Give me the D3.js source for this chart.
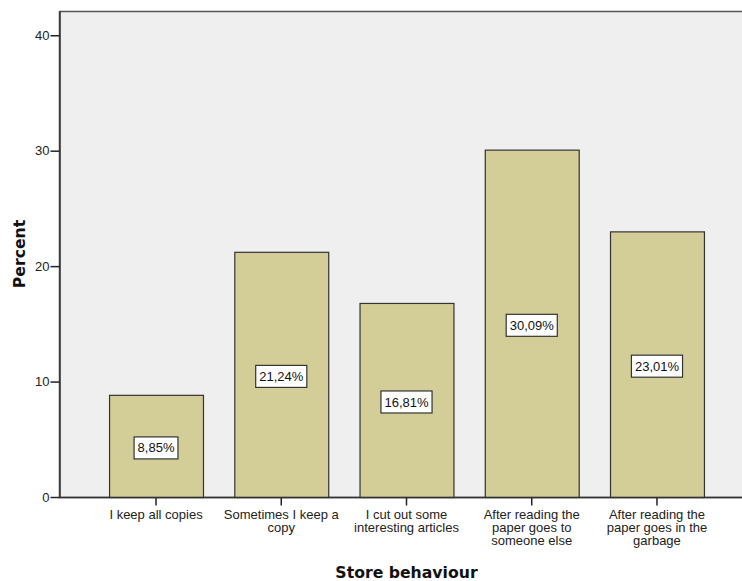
<!DOCTYPE html>
<html>
<head>
<meta charset="utf-8">
<script src="https://cdn.jsdelivr.net/npm/d3@7"></script>
<style>
  html, body { margin: 0; padding: 0; background: #ffffff; }
  svg { display: block; }
</style>
</head>
<body>
<svg id="chart" width="742" height="581"></svg>
<script>
const categories = [
  "I keep all copies",
  "Sometimes I keep a\ncopy",
  "I cut out some\ninteresting articles",
  "After reading the\npaper goes to\nsomeone else",
  "After reading the\npaper goes in the\ngarbage"
];
const percents = [8.85, 21.24, 16.81, 30.09, 23.01];
const valueLabels = ["8,85%", "21,24%", "16,81%", "30,09%", "23,01%"];
const yTicks = [0, 10, 20, 30, 40];

const svg = d3.select("#chart");
const plotLeft = 59, plotTop = 11, plotBottom = 497, plotRight = 760;

const x = d3.scaleBand()
  .domain(categories)
  .range([93.4, 719.6])
  .paddingInner(0.25)
  .paddingOuter(0.125);

const y = d3.scaleLinear()
  .domain([0, 42.1])
  .range([plotBottom, plotTop]);

// plot background / frame
svg.append("rect")
  .attr("x", plotLeft + 0.5).attr("y", plotTop + 0.5)
  .attr("width", plotRight - plotLeft).attr("height", plotBottom - plotTop)
  .attr("fill", "#efefef")
  .attr("stroke", "#555")
  .attr("stroke-width", 1.5);

// bars
svg.append("g").selectAll("rect")
  .data(percents)
  .join("rect")
  .attr("x", (d, i) => x(categories[i]) + 0.5)
  .attr("y", d => y(d) + 0.5)
  .attr("width", x.bandwidth())
  .attr("height", d => y(0) - y(d))
  .attr("fill", "#d3ce97")
  .attr("stroke", "#333")
  .attr("stroke-width", 1.2);

// y axis
const yAxis = svg.append("g")
  .attr("transform", `translate(${plotLeft + 0.5},0)`)
  .call(d3.axisLeft(y).tickValues(yTicks).tickSize(9).tickPadding(1).tickSizeOuter(0));
yAxis.select(".domain").attr("stroke", "#333").attr("stroke-width", 1.5);
yAxis.selectAll(".tick line").attr("stroke", "#222").attr("stroke-width", 1.5);
yAxis.selectAll(".tick text")
  .attr("font-family", "'Liberation Sans', Arial, sans-serif")
  .attr("font-size", 13).attr("fill", "#222");

// x axis
const xAxis = svg.append("g")
  .attr("transform", `translate(0,${plotBottom + 0.5})`)
  .call(d3.axisBottom(x).tickSize(8).tickSizeOuter(0));
xAxis.select(".domain").remove();
svg.append("line")
  .attr("x1", plotLeft).attr("x2", plotRight)
  .attr("y1", plotBottom + 0.5).attr("y2", plotBottom + 0.5)
  .attr("stroke", "#333").attr("stroke-width", 1.5);
xAxis.selectAll(".tick line").attr("stroke", "#222").attr("stroke-width", 1.5);
xAxis.selectAll(".tick text").each(function(d) {
  const t = d3.select(this);
  const lines = d.split("\n");
  t.text(null)
    .attr("y", 0)
    .attr("dy", null)
    .attr("font-family", "'Liberation Sans', Arial, sans-serif")
    .attr("font-size", 13)
    .attr("fill", "#222");
  lines.forEach((ln, k) => {
    t.append("tspan").attr("x", 0).attr("y", 21.5 + k * 13).text(ln);
  });
});

// value labels
const lab = svg.append("g").selectAll("g")
  .data(percents)
  .join("g")
  .attr("transform", (d, i) => `translate(${x(categories[i]) + x.bandwidth() / 2},${y(d / 2) + 2})`);
lab.each(function(d, i) {
  const g = d3.select(this);
  const txt = g.append("text")
    .attr("text-anchor", "middle")
    .attr("dy", "0.35em")
    .attr("font-family", "'Liberation Sans', Arial, sans-serif")
    .attr("font-size", 13)
    .attr("fill", "#111")
    .text(valueLabels[i]);
  const w = txt.node().getComputedTextLength();
  g.insert("rect", "text")
    .attr("x", -w / 2 - 3.5).attr("y", -11)
    .attr("width", w + 7).attr("height", 22)
    .attr("fill", "#fff").attr("stroke", "#333").attr("stroke-width", 1.2);
});

// axis titles
svg.append("text")
  .attr("x", x(categories[2]) + x.bandwidth() / 2)
  .attr("y", 578)
  .attr("text-anchor", "middle")
  .attr("font-family", "'DejaVu Sans', sans-serif")
  .attr("font-weight", "bold")
  .attr("font-size", 15.7)
  .attr("fill", "#111")
  .text("Store behaviour");

svg.append("text")
  .attr("transform", `translate(25,${(plotTop + plotBottom) / 2}) rotate(-90)`)
  .attr("text-anchor", "middle")
  .attr("font-family", "'DejaVu Sans', sans-serif")
  .attr("font-weight", "bold")
  .attr("font-size", 15.7)
  .attr("fill", "#111")
  .text("Percent");
</script>
</body>
</html>
